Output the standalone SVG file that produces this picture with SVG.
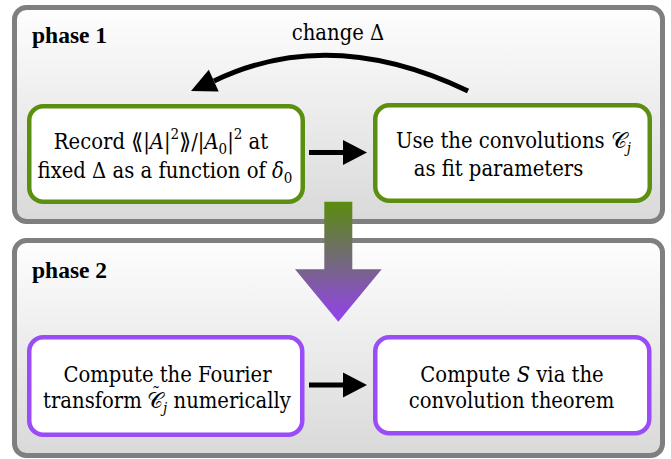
<svg xmlns="http://www.w3.org/2000/svg" width="671" height="459" viewBox="0 0 671 459">
<defs>
<linearGradient id="phaseFill" x1="0" y1="0" x2="0" y2="1">
<stop offset="0" stop-color="#fefefe"/>
<stop offset="1" stop-color="#d9d9d9"/>
</linearGradient>
<linearGradient id="bigArrow" gradientUnits="userSpaceOnUse" x1="0" y1="202" x2="0" y2="322">
<stop offset="0" stop-color="#5a8c0e"/>
<stop offset="0.5" stop-color="#74687c"/>
<stop offset="1" stop-color="#9440f2"/>
</linearGradient>
<style>
.phase{fill:url(#phaseFill);stroke:#7f7f7f;stroke-width:5}
.green{fill:#ffffff;stroke:#5b8f0f;stroke-width:4.5}
.purple{fill:#ffffff;stroke:#9a4cf6;stroke-width:4.5}
.lbl{font-weight:bold;font-family:"Liberation Serif",serif;font-size:23.5px;font-stretch:normal}
.it{font-style:italic}
.sub{font-size:15px}
.conn{fill:none;stroke:#000;stroke-width:5}
</style>
</defs>

<g font-family="DejaVu Serif" font-stretch="condensed" font-size="21.8" fill="#000">
<g id="phase1">
<rect class="phase" x="14.5" y="7.5" width="648" height="214" rx="12"/>
<text class="lbl" x="32" y="43">phase 1</text>
</g>
<g id="phase2">
<rect class="phase" x="14.5" y="240.5" width="648" height="215" rx="12"/>
<text class="lbl" x="32" y="278">phase 2</text>
</g>

<g id="record">
<rect class="green" x="29.25" y="106.25" width="273.5" height="95.5" rx="14"/>
<text x="161" y="148.5" text-anchor="middle">Record ⟪|<tspan class="it">A</tspan>|<tspan class="sub" dy="-10">2</tspan><tspan dy="10">⟫/|</tspan><tspan class="it">A</tspan><tspan class="sub" dy="5">0</tspan><tspan dy="-5">|</tspan><tspan class="sub" dy="-10">2</tspan><tspan dy="10"> at</tspan></text>
<text x="165" y="178" text-anchor="middle">fixed Δ as a function of <tspan class="it">δ</tspan><tspan class="sub" dy="5">0</tspan></text>
</g>

<g id="usefit">
<rect class="green" x="375.25" y="105.25" width="274.5" height="95.5" rx="14"/>
<text x="513.5" y="147.5" text-anchor="middle">Use the convolutions 𝒞<tspan class="sub it" dy="5">j</tspan></text>
<text x="498.5" y="176" text-anchor="middle">as fit parameters</text>
</g>

<g id="fourier">
<rect class="purple" x="29.25" y="337.25" width="273" height="97.5" rx="14"/>
<text x="167.5" y="382" text-anchor="middle">Compute the Fourier</text>
<text x="167" y="408" text-anchor="middle">transform <tspan font-size="18" dx="4" dy="-8">˜</tspan><tspan dx="-13" dy="8">𝒞</tspan><tspan class="sub it" dy="5">j</tspan><tspan dy="-5"> numerically</tspan></text>
</g>

<g id="computeS">
<rect class="purple" x="375.25" y="337.25" width="274" height="96" rx="14"/>
<text x="512" y="382" text-anchor="middle">Compute <tspan class="it">S</tspan> via the</text>
<text x="511.5" y="408" text-anchor="middle">convolution theorem</text>
</g>

<g id="connectors">
<path class="conn" d="M 468 91 Q 330 25 214 81"/>
<polygon points="191,91 208.8,69.7 218.7,91.6" fill="#000"/>
<text x="338" y="40" text-anchor="middle">change Δ</text>
<line class="conn" x1="309" y1="152.5" x2="346" y2="152.5"/>
<polygon points="343,140 367,152.5 343,165" fill="#000"/>
<line class="conn" x1="309" y1="385" x2="346" y2="385"/>
<polygon points="343,372.5 367,385 343,397.5" fill="#000"/>
<polygon points="324.3,201.7 352.3,201.7 352.3,269.3 381.7,269.3 338.3,321.7 295,269.3 324.3,269.3" fill="url(#bigArrow)"/>
</g>
</g>
</svg>
